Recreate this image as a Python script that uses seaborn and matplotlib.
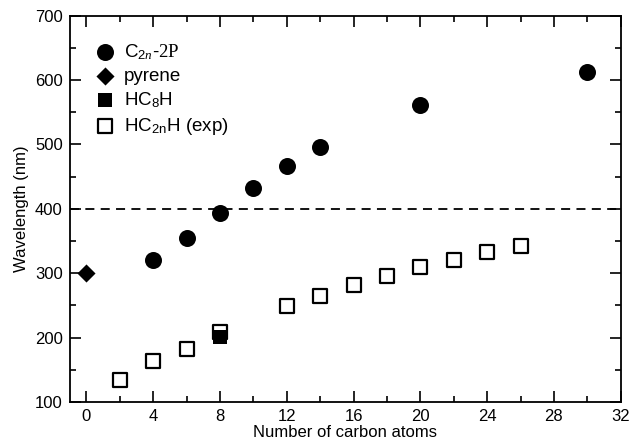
import pandas as pd
import seaborn as sns
import matplotlib.pyplot as plt
import numpy as np
from matplotlib.ticker import MultipleLocator

# C2n-2P
c2p_n = [4, 6, 8, 10, 12, 14, 20, 30]
c2p_wl = [320, 355, 394, 432, 466, 496, 561, 612]

# pyrene
pyr_n = [0]
pyr_wl = [300]

# HC8H
hc8h_n = [8]
hc8h_wl = [201]

# HC2nH experimental
exp_n = [2, 4, 6, 8, 12, 14, 16, 18, 20, 22, 24, 26]
exp_wl = [134, 164, 182, 208, 249, 265, 282, 296, 309, 321, 333, 343]

sns.set_style('ticks')
plt.rcParams['font.family'] = ['Liberation Sans', 'DejaVu Sans']
plt.rcParams['text.color'] = 'black'
plt.rcParams['axes.labelcolor'] = 'black'
plt.rcParams['mathtext.fontset'] = 'custom'
plt.rcParams['mathtext.rm'] = 'Liberation Sans'
plt.rcParams['mathtext.it'] = 'Liberation Serif:italic'
plt.rcParams['mathtext.sf'] = 'Liberation Serif'

fig = plt.figure(figsize=(6.33, 4.43), dpi=100)
ax = fig.add_axes([0.110, 0.0926, 0.8706, 0.872])

ax.axhline(400, color='black', lw=1.3, ls=(0, (5, 3.5)), zorder=1)

sns.scatterplot(x=c2p_n, y=c2p_wl, marker='o', s=150, color='black',
                edgecolor='black', linewidth=0, label=r'C$_{2n}$-$\mathsf{2P}$', ax=ax, zorder=3)
sns.scatterplot(x=pyr_n, y=pyr_wl, marker='D', s=85, color='black',
                edgecolor='black', linewidth=0, label='pyrene', ax=ax, zorder=3)
sns.scatterplot(x=hc8h_n, y=hc8h_wl, marker='s', s=95, color='black',
                edgecolor='black', linewidth=0, label=r'HC$_8$H', ax=ax, zorder=5)
sns.scatterplot(x=exp_n, y=exp_wl, marker='s', s=95, facecolor='white',
                edgecolor='black', linewidth=1.6, label=r'HC$_{\rm 2n}$H (exp)', ax=ax, zorder=4)

ax.set_xlim(-1, 32)
ax.set_ylim(100, 700)
ax.xaxis.set_major_locator(MultipleLocator(4))
ax.xaxis.set_minor_locator(MultipleLocator(2))
ax.yaxis.set_major_locator(MultipleLocator(100))
ax.yaxis.set_minor_locator(MultipleLocator(50))
ax.tick_params(which='both', direction='in', top=True, right=True,
               labelsize=12, width=1.2, color='black', labelcolor='black')
ax.tick_params(which='major', length=8, pad=5)
ax.tick_params(which='minor', length=4.5)
for sp in ax.spines.values():
    sp.set_linewidth(1.3)
    sp.set_color('black')

ax.set_xlabel('Number of carbon atoms', fontsize=12, labelpad=1)
ax.set_ylabel('Wavelength (nm)', fontsize=12, labelpad=4)

ax.legend(loc='upper left', bbox_to_anchor=(0.02, 0.965), frameon=False,
          fontsize=13.5, handletextpad=0.4, labelspacing=0.3, borderaxespad=0.3,
          handlelength=1.2)

fig.savefig('out.png', dpi=100)
